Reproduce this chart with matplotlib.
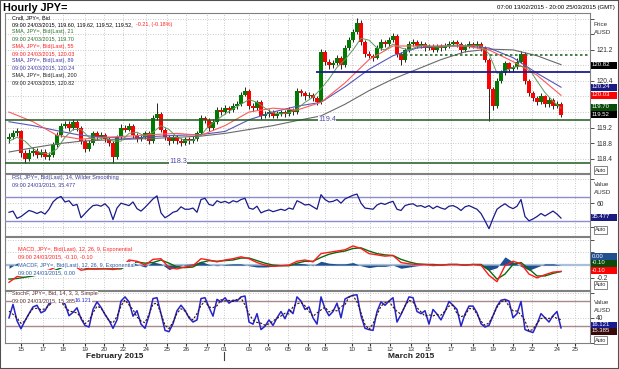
import matplotlib
matplotlib.use("Agg")
import matplotlib.pyplot as plt
from matplotlib.patches import Rectangle
import numpy as np
import pandas as pd

# ---------------- data (x runs in trading days from the left edge) ----------------
first_open = 118.90
close = [118.95, 119.05, 119.10, 118.55, 118.40, 118.55, 118.60, 118.50, 118.58, 118.45,
         118.50, 118.75, 119.00, 119.25, 119.30, 119.20, 119.35, 119.20, 118.85, 118.65,
         118.80, 119.05, 118.95, 119.00, 118.90, 118.80, 118.45, 118.95, 119.20, 119.15,
         119.25, 119.00, 118.90, 118.95, 119.05, 118.85, 119.45, 119.55, 119.15, 118.95,
         118.85, 118.95, 118.85, 118.80, 118.90, 118.85, 118.90, 119.05, 119.45, 119.40,
         119.20, 119.35, 119.65, 119.60, 119.70, 119.65, 119.75, 119.80, 120.05, 120.15,
         119.75, 119.70, 119.85, 119.50, 119.55, 119.60, 119.50, 119.55, 119.60, 119.55,
         119.65, 119.60, 120.15, 120.10, 120.00, 120.05, 119.95, 119.85, 121.15, 120.90,
         120.80, 120.85, 121.00, 120.80, 121.25, 121.45, 121.65, 121.90, 121.40, 121.10,
         121.05, 121.00, 121.25, 121.40, 121.35, 121.45, 121.55, 121.10, 120.95, 121.20,
         121.35, 121.40, 121.30, 121.35, 121.25, 121.30, 121.20, 121.30, 121.25, 121.30,
         121.35, 121.40, 121.35, 121.20, 121.30, 121.35, 121.30, 121.35, 121.25, 120.95,
         120.20, 119.75, 120.40, 120.60, 120.85, 120.70, 120.75, 120.90, 121.10, 120.40,
         120.10, 119.95, 119.85, 120.00, 119.80, 119.90, 119.75, 119.80, 119.52]
high = [119.05, 119.15, 119.20, 119.15, 118.62, 118.65, 118.70, 118.68, 118.66, 118.64,
        118.58, 118.82, 119.08, 119.32, 119.38, 119.36, 119.42, 119.40, 119.25, 118.90,
        118.88, 119.12, 119.12, 119.08, 119.05, 118.95, 118.85, 119.00, 119.28, 119.26,
        119.32, 119.30, 119.05, 119.02, 119.12, 119.10, 119.52, 119.83, 119.60, 119.20,
        119.00, 119.02, 119.00, 118.92, 118.96, 118.95, 118.98, 119.12, 119.52, 119.50,
        119.45, 119.42, 119.72, 119.72, 119.78, 119.76, 119.82, 119.88, 120.12, 120.24,
        120.20, 119.82, 119.92, 119.90, 119.62, 119.68, 119.65, 119.62, 119.66, 119.65,
        119.72, 119.70, 120.22, 120.20, 120.14, 120.12, 120.10, 120.00, 121.22, 121.20,
        120.96, 120.94, 121.08, 121.05, 121.32, 121.52, 121.74, 122.02, 121.96, 121.45,
        121.16, 121.10, 121.32, 121.48, 121.46, 121.52, 121.64, 121.60, 121.15, 121.26,
        121.42, 121.48, 121.45, 121.42, 121.40, 121.36, 121.35, 121.36, 121.35, 121.38,
        121.42, 121.46, 121.45, 121.40, 121.36, 121.42, 121.40, 121.42, 121.40, 121.30,
        121.00, 120.25, 120.48, 120.68, 120.92, 120.90, 120.82, 120.98, 121.18, 121.15,
        120.45, 120.15, 120.02, 120.08, 120.05, 119.98, 119.95, 119.88, 119.85]
low = [118.80, 118.90, 118.98, 118.45, 118.28, 118.35, 118.48, 118.42, 118.44, 118.38,
       118.36, 118.45, 118.70, 118.95, 119.18, 119.12, 119.15, 119.12, 118.78, 118.58,
       118.60, 118.75, 118.88, 118.90, 118.84, 118.72, 118.30, 118.40, 118.90, 119.08,
       119.10, 118.94, 118.82, 118.85, 118.90, 118.78, 118.80, 119.40, 119.08, 118.88,
       118.76, 118.80, 118.78, 118.72, 118.74, 118.78, 118.80, 118.86, 119.00, 119.32,
       119.12, 119.15, 119.30, 119.52, 119.55, 119.58, 119.60, 119.68, 119.75, 120.00,
       119.68, 119.62, 119.65, 119.42, 119.44, 119.48, 119.44, 119.45, 119.50, 119.48,
       119.50, 119.52, 119.55, 120.02, 119.92, 119.95, 119.88, 119.78, 119.80, 120.82,
       120.72, 120.74, 120.80, 120.72, 120.76, 121.20, 121.40, 121.60, 121.32, 121.02,
       120.98, 120.92, 120.96, 121.20, 121.28, 121.30, 121.40, 121.02, 120.80, 120.90,
       121.15, 121.30, 121.24, 121.25, 121.18, 121.20, 121.14, 121.15, 121.18, 121.20,
       121.25, 121.30, 121.28, 121.12, 121.15, 121.25, 121.24, 121.26, 121.18, 120.88,
       119.38, 119.65, 119.70, 120.35, 120.55, 120.62, 120.64, 120.70, 120.85, 120.32,
       120.02, 119.88, 119.78, 119.80, 119.72, 119.74, 119.68, 119.70, 119.48]

rsi = [45, 47, 35, 38, 43, 48, 46, 43, 46, 42, 50, 62, 68, 71, 62, 64, 56, 58, 36, 43,
       50, 56, 57, 55, 59, 52, 33, 52, 60, 58, 56, 62, 51, 47, 53, 60, 67, 72, 44, 36,
       40, 45, 47, 54, 50, 50, 52, 45, 66, 68, 58, 56, 64, 61, 63, 60, 64, 62, 66, 68,
       52, 50, 55, 44, 47, 49, 46, 48, 50, 48, 52, 50, 64, 61, 57, 58, 54, 50, 74, 66,
       62, 63, 66, 60, 67, 70, 73, 75, 60, 52, 51, 50, 57, 60, 58, 61, 63, 50, 48, 56,
       58, 59, 55, 56, 53, 56, 51, 55, 52, 50, 55, 56, 53, 48, 54, 56, 53, 50, 43, 31,
       18, 35, 50, 55, 59, 54, 51, 55, 66, 38, 31, 34, 38, 43, 39, 43, 47, 42, 35.5]

stoch_k = [40, 72, 33, 14, 33, 50, 66, 70, 52, 57, 74, 78, 82, 80, 73, 45, 53, 64, 38, 22,
           18, 60, 78, 65, 48, 34, 15, 35, 80, 90, 78, 44, 57, 25, 15, 45, 86, 88, 50, 10,
           7, 26, 57, 70, 58, 40, 30, 35, 86, 88, 65, 44, 84, 78, 88, 75, 82, 80, 90, 92,
           30, 25, 50, 12, 20, 35, 22, 40, 55, 38, 60, 50, 90, 80, 60, 66, 40, 25, 90, 62,
           45, 55, 75, 40, 85, 90, 94, 95, 45, 15, 12, 10, 55, 78, 70, 80, 88, 30, 48, 68,
           90, 88, 55, 50, 57, 25, 60, 49, 35, 55, 79, 70, 60, 20, 49, 68, 68, 52, 26, 18,
           22, 45, 68, 82, 84, 80, 40, 50, 79, 12, 8, 5, 25, 50, 40, 30, 45, 55, 16]

macd = [-0.27, -0.18, -0.16, -0.14, -0.10, -0.08, -0.02, 0.02, 0.00, -0.08,
        -0.06, -0.06, -0.05, -0.07, -0.04, 0.08, 0.06, 0.00, 0.09, 0.10,
        -0.04, -0.06, -0.03, -0.01, 0.10, 0.08, 0.05, 0.08, 0.10, 0.13,
        0.10, 0.04, 0.00, -0.02, -0.01, 0.00, 0.06, 0.08, 0.05, 0.18,
        0.20, 0.22, 0.24, 0.30, 0.26, 0.18, 0.16, 0.14, 0.15, 0.04,
        0.02, 0.01, 0.01, 0.00, 0.00, 0.01, 0.01, 0.00, 0.01, 0.00,
        -0.16, -0.26, -0.01, 0.06, 0.02, -0.14, -0.20, -0.15, -0.11, -0.10]
macd_sig = [-0.22, -0.21, -0.19, -0.17, -0.14, -0.11, -0.07, -0.02, 0.00, -0.03,
            -0.06, -0.06, -0.06, -0.06, -0.06, 0.01, 0.05, 0.03, 0.04, 0.08,
            0.03, -0.03, -0.04, -0.03, 0.04, 0.07, 0.06, 0.07, 0.08, 0.11,
            0.11, 0.07, 0.03, 0.00, -0.01, -0.01, 0.03, 0.06, 0.06, 0.12,
            0.17, 0.20, 0.22, 0.26, 0.27, 0.22, 0.18, 0.16, 0.15, 0.09,
            0.05, 0.02, 0.01, 0.01, 0.00, 0.01, 0.01, 0.00, 0.01, 0.01,
            -0.08, -0.22, -0.14, 0.01, 0.04, -0.06, -0.17, -0.17, -0.13, -0.10]

sma21 = [118.85, 118.95, 118.85, 118.65, 118.55, 118.52, 118.65, 118.95, 119.15, 119.15,
         118.95, 118.88, 118.95, 118.85, 118.85, 119.05, 119.08, 118.98, 119.08, 119.25,
         119.15, 118.95, 118.87, 118.87, 119.00, 119.25, 119.40, 119.55, 119.68, 119.80,
         119.92, 119.85, 119.70, 119.58, 119.55, 119.58, 119.68, 119.85, 119.98, 120.20,
         120.45, 120.75, 120.95, 121.20, 121.50, 121.45, 121.25, 121.20, 121.35, 121.25,
         121.20, 121.28, 121.32, 121.28, 121.27, 121.30, 121.33, 121.30, 121.31, 121.30,
         121.10, 120.60, 120.65, 120.75, 120.78, 120.72, 120.40, 120.10, 119.88, 119.70]
sma55 = [119.60, 119.35, 119.00, 118.90, 118.95, 118.98, 119.02, 119.05, 119.00, 119.25,
         119.60, 119.70, 119.65, 119.85, 120.35, 120.95, 121.30, 121.30, 121.30, 121.30,
         121.20, 120.90, 120.55, 120.03]
sma89 = [119.35, 119.25, 119.12, 119.00, 118.95, 118.92, 118.97, 119.00, 119.02, 119.10,
         119.40, 119.60, 119.75, 119.85, 120.25, 120.70, 121.05, 121.25, 121.30, 121.30,
         121.25, 121.00, 120.60, 120.24]
sma200 = [118.57, 118.68, 118.78, 118.85, 118.88, 118.90, 118.92, 118.95, 118.98, 119.05,
          119.15, 119.25, 119.38, 119.50, 119.80, 120.15, 120.45, 120.70, 120.95, 121.15,
          121.22, 121.20, 121.05, 120.82]

tick_days = [0.65, 1.75, 2.75, 3.85, 4.8, 5.75, 6.9, 7.95, 8.9, 9.95, 10.8, 12.05, 13.0, 14.0,
             15.0, 15.85, 17.2, 18.1, 19.1, 20.15, 21.0, 22.15, 23.25, 24.25, 25.25, 26.2,
             27.45, 28.35]
tick_labels = ['15', '17', '18', '19', '20', '22', '24', '25', '26', '27', '01', '03', '04',
               '05', '06', '08', '10', '11', '12', '13', '15', '17', '18', '19', '20', '22',
               '24', '25']

support_lo = 118.3
support_hi = 119.4
resist_blue = 120.63
resist_dot = 121.07

# ---------------- layout ----------------
plt.rcParams['font.family'] = ['Liberation Sans', 'DejaVu Sans']
W, H = 619, 369
fig = plt.figure(figsize=(W / 100, H / 100), dpi=100)
fig.patch.set_facecolor('white')

fx = lambda px: px / W
fy = lambda py: 1 - py / H

def panel(y0, y1):
    ax = fig.add_axes([fx(5), fy(y1), (590 - 5) / W, (y1 - y0) / H])
    ax.set_xlim(-0.15, 29.1)
    ax.yaxis.tick_right()
    ax.tick_params(axis='y', labelsize=4.8, length=3, pad=1.5, colors='#303030', width=0.6)
    ax.tick_params(axis='x', length=0, labelbottom=False)
    ax.set_xticks(tick_days)
    for s in ax.spines.values():
        s.set_color('#808080')
        s.set_linewidth(0.8)
    ax.grid(True, color='#b8b8b8', linestyle=(0, (1, 2)), linewidth=0.6)
    ax.set_axisbelow(True)
    return ax

ax_p = panel(13, 173)
ax_r = panel(174, 236)
ax_m = panel(237, 290)
ax_s = panel(291, 343)

xf = 0.05 + 0.2 * np.arange(len(close))
xm = 0.05 + 0.4 * np.arange(len(macd))
xs = 0.05 + 1.2 * np.arange(len(sma55))

# ---------------- price panel ----------------
c = np.array(close)
o = np.concatenate([[first_open], c[:-1]])
up = c >= o
ax_p.vlines(xf, low, high, color='black', linewidth=0.6, zorder=3)
body_lo = np.minimum(o, c)
body_h = np.maximum(np.abs(c - o), 0.02)
ax_p.bar(xf, body_h, bottom=body_lo, width=0.17,
         color=np.where(up, '#007a00', '#ff0000'), zorder=4)

ax_p.plot(xs, sma200, color='#6a6a6a', lw=0.8, zorder=5)
ax_p.plot(xs, sma89, color='#5656b8', lw=0.8, zorder=5)
ax_p.plot(xs, sma55, color='#ff5a5a', lw=0.8, zorder=5)
ax_p.plot(xm, sma21, color='#5f985f', lw=0.7, zorder=5)

ax_p.axhline(support_hi, color='#1e5a1e', lw=1.1, zorder=6)
ax_p.axhline(support_lo, color='#1e5a1e', lw=1.1, zorder=6)
ax_p.hlines(resist_blue, 15.4, 29.1, color='#1c1c8c', lw=1.3, zorder=6)
ax_p.hlines(resist_dot, 19.6, 29.1, color='#2a6a2a', lw=1.2, linestyle=(0, (1.5, 1.5)), zorder=6)

ax_p.set_ylim(118.03, 122.15)
pt = np.round(np.arange(118.4, 122.01, 0.4), 1)
ax_p.set_yticks(pt)
ax_p.set_yticklabels(['118.4', '118.8', '119.2', '', '', '120.4', '', '121.2', '', ''])

# ---------------- RSI ----------------
ax_r.plot(xf, rsi, color='#1a1a8a', lw=0.9, zorder=5)
ax_r.axhline(70, color='#8c8cd0', lw=1.0, zorder=4)
ax_r.axhline(30, color='#8c8cd0', lw=1.0, zorder=4)
ax_r.set_ylim(6, 108)
ax_r.set_yticks([20, 60, 100])
ax_r.set_yticklabels(['', '60', ''])

# ---------------- MACD ----------------
hist = np.array(macd) - np.array(macd_sig)
ax_m.fill_between(xm, 0, hist, color='#1f4f8f', lw=0, zorder=3)
ax_m.axhline(0, color='#aac0d8', lw=1.6, zorder=2)
ax_m.plot(xm, macd_sig, color='#0a6a0a', lw=1.0, zorder=5)
ax_m.plot(xm, macd, color='#ff1a1a', lw=1.0, zorder=6)
ax_m.set_ylim(-0.39, 0.44)
ax_m.set_yticks([-0.2, 0.0, 0.2, 0.4])
ax_m.set_yticklabels(['-0.2', '', '', ''])

# ---------------- Stochastic ----------------
k = pd.Series(stoch_k, dtype=float)
d = k.rolling(3, min_periods=1, center=True).mean()
ax_s.axhline(80, color='#a88888', lw=1.0, zorder=3)
ax_s.axhline(20, color='#a88888', lw=1.0, zorder=3)
ax_s.plot(xf, k, color='#2424c8', lw=1.1, zorder=5)
ax_s.plot(xf, d, color='#3a0f0f', lw=0.8, linestyle=(0, (2, 1.5)), zorder=6)
ax_s.set_ylim(-11, 104)
ax_s.set_yticks([-20, 40, 100])
ax_s.set_yticklabels(['', '40', ''])
ax_s.tick_params(axis='x', length=2, labelbottom=True, labelsize=4.5, pad=1, colors='#303030')
ax_s.set_xticklabels(tick_labels)

# ---------------- texts ----------------
def txt(px, py, s, color='black', size=4.0, bg=False, **kw):
    opts = dict(fontsize=size, color=color, va='center', ha='left', zorder=20)
    if bg:
        opts['bbox'] = dict(facecolor='white', edgecolor='none', pad=0.2)
    opts.update(kw)
    fig.text(fx(px), fy(py), s, **opts)

txt(3, 8, 'Hourly JPY=', size=7.8, weight='bold')
txt(615, 8, '07:00 13/02/2015 - 20:00 25/03/2015 (GMT)', size=4.3, ha='right')

price_lines = [
    ('Cndl, JPY=, Bid', 'black'),
    ('09:00 24/03/2015, 119.60, 119.62, 119.52, 119.52,', 'black'),
    ('SMA, JPY=, Bid(Last), 21', '#2e6e2e'),
    ('09:00 24/03/2015, 119.70', '#2e6e2e'),
    ('SMA, JPY=, Bid(Last), 55', '#ff2020'),
    ('09:00 24/03/2015, 120.03', '#ff2020'),
    ('SMA, JPY=, Bid(Last), 89', '#3a3aa8'),
    ('09:00 24/03/2015, 120.24', '#3a3aa8'),
    ('SMA, JPY=, Bid(Last), 200', '#202020'),
    ('09:00 24/03/2015, 120.82', '#202020'),
]
for i, (s, col) in enumerate(price_lines):
    txt(12, 17.5 + 7.2 * i, s, col, size=3.9)
txt(136, 17.5 + 7.2, '-0.21, (-0.18%)', '#ff2020', size=3.9)

txt(12, 177.5, 'RSI, JPY=, Bid(Last), 14, Wilder Smoothing', '#3a3a9a')
txt(12, 185, '09:00 24/03/2015, 35.477', '#3a3a9a')

txt(18, 249, 'MACD, JPY=, Bid(Last), 12, 26, 9, Exponential', '#ff2020', bg=True)
txt(18, 257, '09:00 24/03/2015, -0.10, -0.10', '#ff2020', bg=True)
txt(18, 265, 'MACDF, JPY=, Bid(Last), 12, 26, 9, Exponential', '#2a5aa0', bg=True)
txt(18, 273, '09:00 24/03/2015, 0.00', '#2a5aa0', bg=True)

txt(12, 293.5, 'StochF, JPY=, Bid, 14, 3, 3, Simple', '#5a2a2a', bg=True)
txt(12, 300.5, '09:00 24/03/2015, 15.385,', '#5a2a2a', bg=True)
txt(75, 300.5, '16.121', '#2a2ac8', bg=True)

txt(327, 119.5, '119.4', '#4a4aa8', size=5.2, bg=True, ha='center')
txt(178, 161, '118.3', '#4a4aa8', size=5.2, bg=True, ha='center')

for py, s in [(24, 'Price'), (32, 'AUSD'), (185, 'Value'), (193, 'AUSD'), (302, 'Value'), (310, 'AUSD')]:
    txt(594, py, s, '#303030', size=4.5)

tags = [(65, '120.82', 'black'), (87, '120.24', '#1a1a80'), (95, '120.03', '#ff0000'),
        (107, '119.70', '#0a4a0a'), (114, '119.52', 'black'), (217, '35.477', '#1a1a80'),
        (256, '0.00', '#1f4f8f'), (263, '-0.10', '#0a4a0a'), (270, '-0.10', '#ff0000'),
        (325, '16.121', '#1a1a90'), (331, '15.385', '#3a0a0a')]
for py, s, col in tags:
    fig.patches.append(Rectangle((fx(591), fy(py + 3.5)), 26 / W, 7 / H, transform=fig.transFigure,
                                 facecolor=col, edgecolor='none', zorder=15))
    txt(592, py, s, 'white', size=4.3)

for py in [170, 230, 285, 340]:
    txt(595, py, 'Auto', '#303030', size=4.0,
        bbox=dict(facecolor='white', edgecolor='#707070', pad=0.8, lw=0.6))

txt(115, 356, 'February 2015', '#202020', size=6.0, weight='bold', ha='center')
txt(411, 356, 'March 2015', '#202020', size=6.0, weight='bold', ha='center')
fig.add_artist(plt.Line2D([fx(224), fx(224)], [fy(352), fy(360)], color='#404040', lw=0.8))

fig.patches.append(Rectangle((0, 0), 1, 1, transform=fig.transFigure, fill=False,
                             edgecolor='#505050', lw=1.5, zorder=30))

fig.savefig('out.png', dpi=100)
